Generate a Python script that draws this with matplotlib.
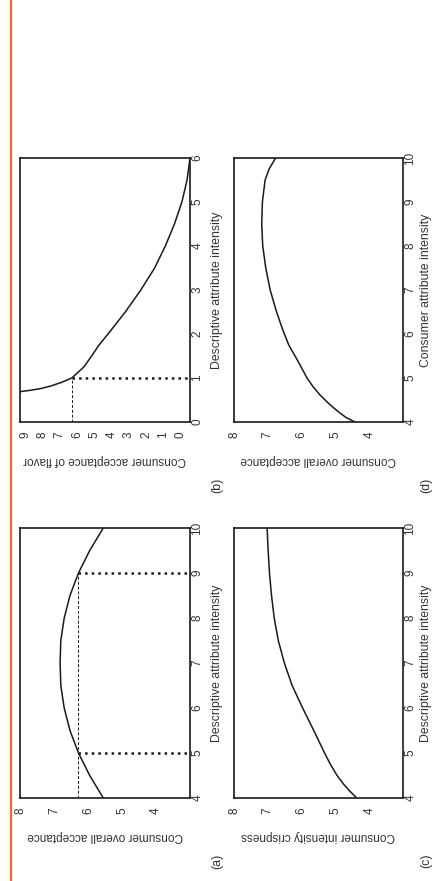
import matplotlib
matplotlib.use("Agg")
import matplotlib.pyplot as plt
from matplotlib.lines import Line2D

plt.rcParams['font.family'] = ['Liberation Sans', 'DejaVu Sans']
plt.rcParams['font.size'] = 8

# --------------------------------------------
# données (tournée de 90°)
# --------------------------------------------
# (a) acceptation globale vs intensité descriptive
a_attr = [4.0, 4.5, 5.0, 5.5, 6.0, 6.5, 7.0, 7.5, 8.0, 8.5, 9.0, 9.5, 10.0]
a_val = [5.55, 5.95, 6.28, 6.53, 6.70, 6.80, 6.82, 6.80, 6.70, 6.53, 6.28, 5.95, 5.55]
a_level = 6.28
a_marks = [5, 9]

# (b) acceptation de la saveur vs intensité descriptive
b_attr = [0.69, 0.72, 0.76, 0.82, 0.90, 1.0, 1.25, 1.5, 1.75, 2.0, 2.5, 3.0,
          3.5, 4.0, 4.5, 5.0, 5.5, 6.0]
b_val = [9.3, 8.7, 8.1, 7.5, 6.9, 6.3, 5.6, 5.15, 4.72, 4.2, 3.2, 2.3,
         1.5, 0.88, 0.35, -0.08, -0.38, -0.55]
b_level = 6.3
b_marks = [1]

# (c) intensité perçue (croquant) vs intensité descriptive
c_attr = [4.0, 4.15, 4.3, 4.5, 4.75, 5.0, 5.5, 6.0, 6.5, 7.0, 7.5, 8.0, 8.5, 9.0, 9.5, 10.0]
c_val = [4.37, 4.57, 4.75, 4.95, 5.15, 5.32, 5.64, 5.97, 6.28, 6.51, 6.69, 6.81, 6.89,
         6.95, 6.99, 7.02]

# (d) acceptation globale vs intensité perçue
d_attr = [4.0, 4.1, 4.23, 4.4, 4.61, 4.8, 5.0, 5.4, 5.75, 6.1, 6.5, 7.0, 7.5, 8.0,
          8.5, 9.0, 9.5, 9.75, 10.0]
d_val = [4.42, 4.68, 4.91, 5.17, 5.45, 5.66, 5.84, 6.12, 6.38, 6.56, 6.74, 6.93, 7.06,
         7.15, 7.18, 7.16, 7.08, 6.96, 6.77]

acc_ticks = [4, 5, 6, 7, 8]
flavor_ticks = list(range(10))
attr_ticks = [4, 5, 6, 7, 8, 9, 10]
attr_ticks_b = [0, 1, 2, 3, 4, 5, 6]

TXT = '#333333'
LINE = '#1a1a1a'
W, H = 434, 881

fig = plt.figure(figsize=(W / 100, H / 100), dpi=100)

# bordure orange à gauche
fig.add_artist(Line2D([10.5 / W, 10.5 / W], [0, 1], color='#f26a2a', lw=1.6))


def make_panel(box, attr, val, xlim, ylim, xticks, yticks, xlabel, ylabel, letter,
               right_off):
    x0, y0, x1, y1 = box  # pixels, origine en haut à gauche
    ax = fig.add_axes([x0 / W, (H - y1) / H, (x1 - x0) / W, (y1 - y0) / H])
    pw, ph = x1 - x0, y1 - y0
    ax.plot(val, attr, color=LINE, lw=1.1)
    ax.set_xlim(*xlim)
    ax.set_ylim(*ylim)
    ax.set_xticks(xticks)
    ax.set_yticks(yticks)
    ax.yaxis.tick_right()
    ax.yaxis.set_label_position('right')
    ax.tick_params(axis='both', length=0, colors=TXT, labelsize=8.5)
    ax.tick_params(axis='x', pad=9)
    ax.tick_params(axis='y', pad=1)
    for lab in ax.get_xticklabels() + ax.get_yticklabels():
        lab.set_rotation(90)
        lab.set_va('center')
        lab.set_ha('center')
    for lab in ax.get_yticklabels():
        lab.set_ha('left')
    ax.set_xlabel(xlabel, rotation=180, color=TXT, fontsize=8.5, va='center', ha='center')
    ax.xaxis.set_label_coords(0.5, -38 / ph)
    ax.set_ylabel(ylabel, rotation=90, color=TXT, fontsize=8.8, va='center', ha='center')
    ax.yaxis.set_label_coords(1 + right_off / pw, 0.5)
    for s in ax.spines.values():
        s.set_linewidth(1.2)
        s.set_color(LINE)
    ax.text(1 + right_off / pw, -63 / ph, letter, transform=ax.transAxes, rotation=90,
            ha='center', va='center', color=TXT, fontsize=9)
    return ax


# (b)
ax_b = make_panel((20, 158, 190, 422), b_attr, b_val, (9.3, -0.55), (0, 6),
                  flavor_ticks, attr_ticks_b, 'Consumer acceptance of flavor',
                  'Descriptive attribute intensity', '(b)', 27)
ax_b.plot([b_level, b_level], [0, b_marks[0]], color=LINE, lw=0.7, dashes=(3, 2))
for m in b_marks:
    ax_b.plot([b_level, -0.55], [m, m], ':', color=LINE, lw=1.8)

# (d)
make_panel((234, 158, 403, 422), d_attr, d_val, (8, 3), (4, 10),
           acc_ticks, attr_ticks, 'Consumer overall acceptance',
           'Consumer attribute intensity', '(d)', 23)

# (a)
ax_a = make_panel((20, 528, 190, 798), a_attr, a_val, (8, 3), (4, 10),
                  acc_ticks, attr_ticks, 'Consumer overall acceptance',
                  'Descriptive attribute intensity', '(a)', 27)
ax_a.plot([a_level, a_level], [4, max(a_marks)], color=LINE, lw=0.7, dashes=(3, 2))
for m in a_marks:
    ax_a.plot([a_level, 3], [m, m], ':', color=LINE, lw=1.8)

# (c)
make_panel((234, 528, 403, 798), c_attr, c_val, (8, 3), (4, 10),
           acc_ticks, attr_ticks, 'Consumer intensity crispness',
           'Descriptive attribute intensity', '(c)', 23)

fig.savefig('out.png', dpi=100, facecolor='white')
